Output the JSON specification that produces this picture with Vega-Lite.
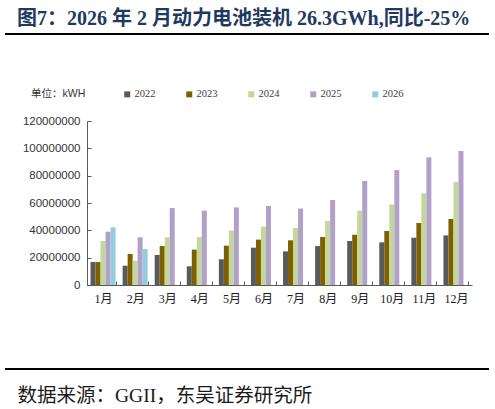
{
  "$schema": "https://vega.github.io/schema/vega-lite/v6.json",
  "autosize": "none",
  "width": 484,
  "height": 335,
  "padding": {"left": 5, "right": 6, "top": 34, "bottom": 40},
  "background": "white",
  "config": {"view": {"stroke": null}},
  "title": {
    "text": "图7：2026 年 2 月动力电池装机 26.3GWh,同比-25%",
    "anchor": "start",
    "frame": "group",
    "dx": 12,
    "offset": -12,
    "baseline": "alphabetic",
    "font": "Liberation Serif, Noto Sans CJK SC",
    "fontSize": 20,
    "fontWeight": "bold",
    "color": "#1f3a5f"
  },
  "layer": [
    {
      "data": {
        "values": [
          {"month": "1月", "year": "2022", "value": 16800000},
          {"month": "1月", "year": "2023", "value": 16800000},
          {"month": "1月", "year": "2024", "value": 32200000},
          {"month": "1月", "year": "2025", "value": 39000000},
          {"month": "1月", "year": "2026", "value": 42200000},
          {"month": "2月", "year": "2022", "value": 14100000},
          {"month": "2月", "year": "2023", "value": 22700000},
          {"month": "2月", "year": "2024", "value": 17800000},
          {"month": "2月", "year": "2025", "value": 34900000},
          {"month": "2月", "year": "2026", "value": 26300000},
          {"month": "3月", "year": "2022", "value": 22000000},
          {"month": "3月", "year": "2023", "value": 28500000},
          {"month": "3月", "year": "2024", "value": 34900000},
          {"month": "3月", "year": "2025", "value": 56300000},
          {"month": "4月", "year": "2022", "value": 13700000},
          {"month": "4月", "year": "2023", "value": 25900000},
          {"month": "4月", "year": "2024", "value": 35100000},
          {"month": "4月", "year": "2025", "value": 54400000},
          {"month": "5月", "year": "2022", "value": 18800000},
          {"month": "5月", "year": "2023", "value": 28800000},
          {"month": "5月", "year": "2024", "value": 39800000},
          {"month": "5月", "year": "2025", "value": 56800000},
          {"month": "6月", "year": "2022", "value": 27300000},
          {"month": "6月", "year": "2023", "value": 33200000},
          {"month": "6月", "year": "2024", "value": 42700000},
          {"month": "6月", "year": "2025", "value": 57800000},
          {"month": "7月", "year": "2022", "value": 24600000},
          {"month": "7月", "year": "2023", "value": 32700000},
          {"month": "7月", "year": "2024", "value": 41700000},
          {"month": "7月", "year": "2025", "value": 55900000},
          {"month": "8月", "year": "2022", "value": 28500000},
          {"month": "8月", "year": "2023", "value": 35100000},
          {"month": "8月", "year": "2024", "value": 46800000},
          {"month": "8月", "year": "2025", "value": 62200000},
          {"month": "9月", "year": "2022", "value": 32200000},
          {"month": "9月", "year": "2023", "value": 36800000},
          {"month": "9月", "year": "2024", "value": 54400000},
          {"month": "9月", "year": "2025", "value": 76100000},
          {"month": "10月", "year": "2022", "value": 31200000},
          {"month": "10月", "year": "2023", "value": 39500000},
          {"month": "10月", "year": "2024", "value": 59000000},
          {"month": "10月", "year": "2025", "value": 84100000},
          {"month": "11月", "year": "2022", "value": 34600000},
          {"month": "11月", "year": "2023", "value": 45400000},
          {"month": "11月", "year": "2024", "value": 67100000},
          {"month": "11月", "year": "2025", "value": 93400000},
          {"month": "12月", "year": "2022", "value": 36300000},
          {"month": "12月", "year": "2023", "value": 48300000},
          {"month": "12月", "year": "2024", "value": 75400000},
          {"month": "12月", "year": "2025", "value": 98000000}
        ]
      },
      "mark": {"type": "bar"},
      "encoding": {
        "x": {
          "field": "month",
          "type": "nominal",
          "sort": ["1月", "2月", "3月", "4月", "5月", "6月", "7月", "8月", "9月", "10月", "11月", "12月"],
          "scale": {"range": [82, 467], "paddingInner": 0.22, "paddingOuter": 0.11},
          "axis": {
            "orient": "bottom",
            "offset": -84,
            "labelAngle": 0,
            "labelFont": "Liberation Serif, Noto Sans CJK SC",
            "labelFontSize": 12,
            "labelColor": "#1a1a1a",
            "labelPadding": 12,
            "tickBand": "extent",
            "tickSize": -4,
            "tickColor": "#595959",
            "domainColor": "#595959",
            "title": "数据来源：GGII，东吴证券研究所",
            "titleX": 12,
            "titleY": 110,
            "titleAlign": "left",
            "titleAnchor": "start",
            "titleBaseline": "middle",
            "titleFont": "Liberation Serif, Noto Sans CJK SC",
            "titleFontSize": 19.5,
            "titleFontWeight": "normal",
            "titleColor": "#1a1a1a"
          }
        },
        "xOffset": {"field": "year", "type": "nominal", "sort": ["2022", "2023", "2024", "2025", "2026"]},
        "y": {
          "field": "value",
          "type": "quantitative",
          "stack": null,
          "scale": {"domain": [0, 120000000], "range": [251, 87], "nice": false},
          "axis": {
            "orient": "left",
            "offset": -82,
            "values": [0, 20000000, 40000000, 60000000, 80000000, 100000000, 120000000],
            "format": "d",
            "grid": false,
            "title": null,
            "labelFont": "Liberation Sans",
            "labelFontSize": 11.5,
            "labelColor": "#333333",
            "labelPadding": 11,
            "tickSize": -4,
            "tickColor": "#595959",
            "domainColor": "#595959"
          }
        },
        "color": {
          "field": "year",
          "type": "nominal",
          "scale": {
            "domain": ["2022", "2023", "2024", "2025", "2026"],
            "range": ["#5a5a5a", "#7f6000", "#c3d69b", "#b1a0c7", "#92cddc"]
          },
          "legend": {
            "orient": "none",
            "legendX": 26,
            "legendY": 55,
            "direction": "horizontal",
            "title": "单位：kWH",
            "titleOrient": "left",
            "titlePadding": 36,
            "titleFont": "Liberation Sans, Noto Sans CJK SC",
            "titleFontSize": 10.5,
            "titleFontWeight": "normal",
            "titleColor": "#333333",
            "symbolType": "square",
            "symbolSize": 36,
            "symbolStrokeWidth": 0,
            "symbolOpacity": 1,
            "labelFont": "Liberation Serif",
            "labelFontSize": 10.5,
            "labelColor": "#404040",
            "labelOffset": 2,
            "columnPadding": 28
          }
        }
      }
    },
    {
      "data": {"values": [{}]},
      "mark": {"type": "rule", "color": "black", "strokeWidth": 1.8},
      "encoding": {"y": {"value": 0}}
    },
    {
      "data": {"values": [{}]},
      "mark": {"type": "rule", "color": "black", "strokeWidth": 1.8},
      "encoding": {"y": {"value": "height"}}
    }
  ]
}
